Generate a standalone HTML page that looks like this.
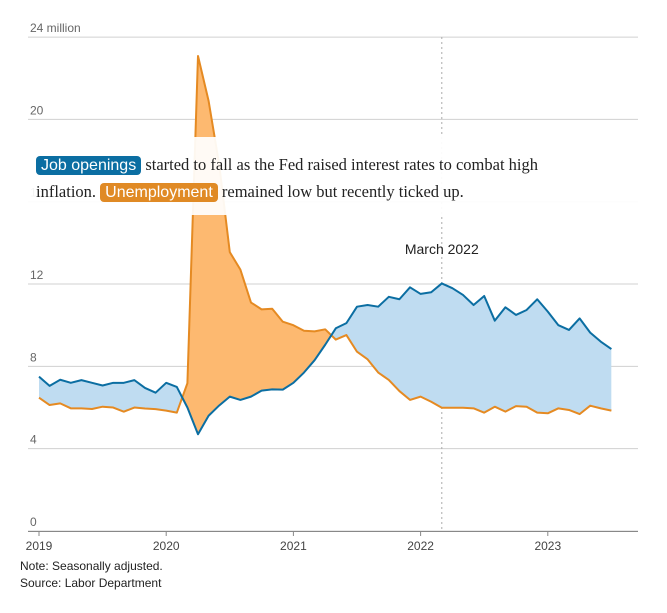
<!DOCTYPE html>
<html><head><meta charset="utf-8"><style>
body{margin:0;background:#fff;width:667px;height:613px;overflow:hidden;font-family:"Liberation Sans",sans-serif}
svg{position:absolute;left:0;top:0}
.note{position:absolute;left:20px;font-size:12px;color:#222}
#anno{position:absolute;left:20px;top:137px;width:625px;height:78px;background:rgba(255,255,255,0.93)}
#anno p{margin:0;position:absolute;left:16px;top:15px;font-family:"Liberation Serif",serif;font-size:16.5px;line-height:26px;color:#222;white-space:nowrap}
.badge{color:#fff;border-radius:4px;padding:1px 5px;font-family:"Liberation Sans Narrow","Liberation Sans",sans-serif;font-size:16px}
</style></head><body>
<svg id="chart" width="667" height="613"></svg>
<div id="anno"><p><span class="badge" style="background:#0b6ea2">Job openings</span> started to fall as the Fed raised interest rates to combat high<br>inflation. <span class="badge" style="background:#e08a25">Unemployment</span> remained low but recently ticked up.</p></div>
<div class="note" style="top:559px">Note: Seasonally adjusted.</div>
<div class="note" style="top:576px">Source: Labor Department</div>
<script>
const openings=[7.5,7.05,7.35,7.2,7.33,7.2,7.07,7.2,7.2,7.33,6.95,6.72,7.2,7.0,6.0,4.7,5.6,6.1,6.53,6.37,6.53,6.82,6.88,6.87,7.2,7.7,8.3,9.05,9.85,10.1,10.9,10.98,10.9,11.38,11.26,11.84,11.52,11.6,12.03,11.8,11.47,10.98,11.42,10.22,10.87,10.5,10.74,11.26,10.66,10.0,9.77,10.33,9.64,9.2,8.84];
const unemployed=[6.48,6.12,6.2,5.96,5.96,5.93,6.04,6.0,5.8,6.0,5.95,5.92,5.85,5.75,7.18,23.08,20.9,17.8,13.55,12.7,11.1,10.77,10.8,10.17,10.0,9.73,9.7,9.8,9.3,9.52,8.71,8.34,7.7,7.34,6.8,6.37,6.53,6.28,5.99,5.99,5.99,5.96,5.75,6.04,5.8,6.07,6.04,5.75,5.72,5.96,5.88,5.68,6.09,5.96,5.85];
const yTicks=[0,4,8,12,16,20,24];
const yearLabels=["2019","2020","2021","2022","2023"];
const x=i=>39+i*10.6, y=v=>531-v*20.58;
const svg=document.getElementById('chart'), NS='http://www.w3.org/2000/svg';
function mk(t,a,p){const e=document.createElementNS(NS,t);for(const k in a)e.setAttribute(k,a[k]);(p||svg).appendChild(e);return e;}
yTicks.forEach(v=>{
 const l=mk('line',{x1:28,x2:638,y1:y(v),y2:y(v),stroke:'#d0d0d0','stroke-width':1});
 
 
 const t=mk('text',{x:30,y:y(v)-5,'font-size':12,fill:'#666'});
 t.textContent=v===24?'24 million':v;
 
 
});
const ml=mk('line',{x1:x(38),x2:x(38),y1:37,y2:531,stroke:'#aaa','stroke-dasharray':'2,3'});


const mt=mk('text',{x:x(38),y:254,'font-size':14,fill:'#222','text-anchor':'middle'});
mt.textContent='March 2022';


const pts=a=>a.map((v,i)=>x(i)+','+y(v)).join(' ');
const n=openings.length-1;
const defs=mk('defs',{});
const cu=mk('clipPath',{id:'aboveU'},defs);mk('polygon',{points:pts(unemployed)+' '+x(n)+',0 '+x(0)+',0'},cu);
const co=mk('clipPath',{id:'aboveO'},defs);mk('polygon',{points:pts(openings)+' '+x(n)+',0 '+x(0)+',0'},co);
const bf=mk('polygon',{points:pts(openings)+' '+x(n)+',531 '+x(0)+',531',fill:'#bfdcf1','clip-path':'url(#aboveU)'});


const of=mk('polygon',{points:pts(unemployed)+' '+x(n)+',531 '+x(0)+',531',fill:'#fdb970','clip-path':'url(#aboveO)'});


const ul=mk('polyline',{points:pts(unemployed),fill:'none',stroke:'#e58a22','stroke-width':2,'stroke-linejoin':'round'});


const ol=mk('polyline',{points:pts(openings),fill:'none',stroke:'#0b6ea2','stroke-width':2,'stroke-linejoin':'round'});


const ax=mk('line',{x1:28,x2:638,y1:531.5,y2:531.5,stroke:'#888'});


yearLabels.forEach((s,k)=>{
 const xx=x(k*12);
 mk('line',{x1:xx,x2:xx,y1:531,y2:536,stroke:'#888'});
 const t=mk('text',{x:xx,y:550,'font-size':12,fill:'#444','text-anchor':'middle'});
 t.textContent=s;
 
 
});
</script>
</body></html>
